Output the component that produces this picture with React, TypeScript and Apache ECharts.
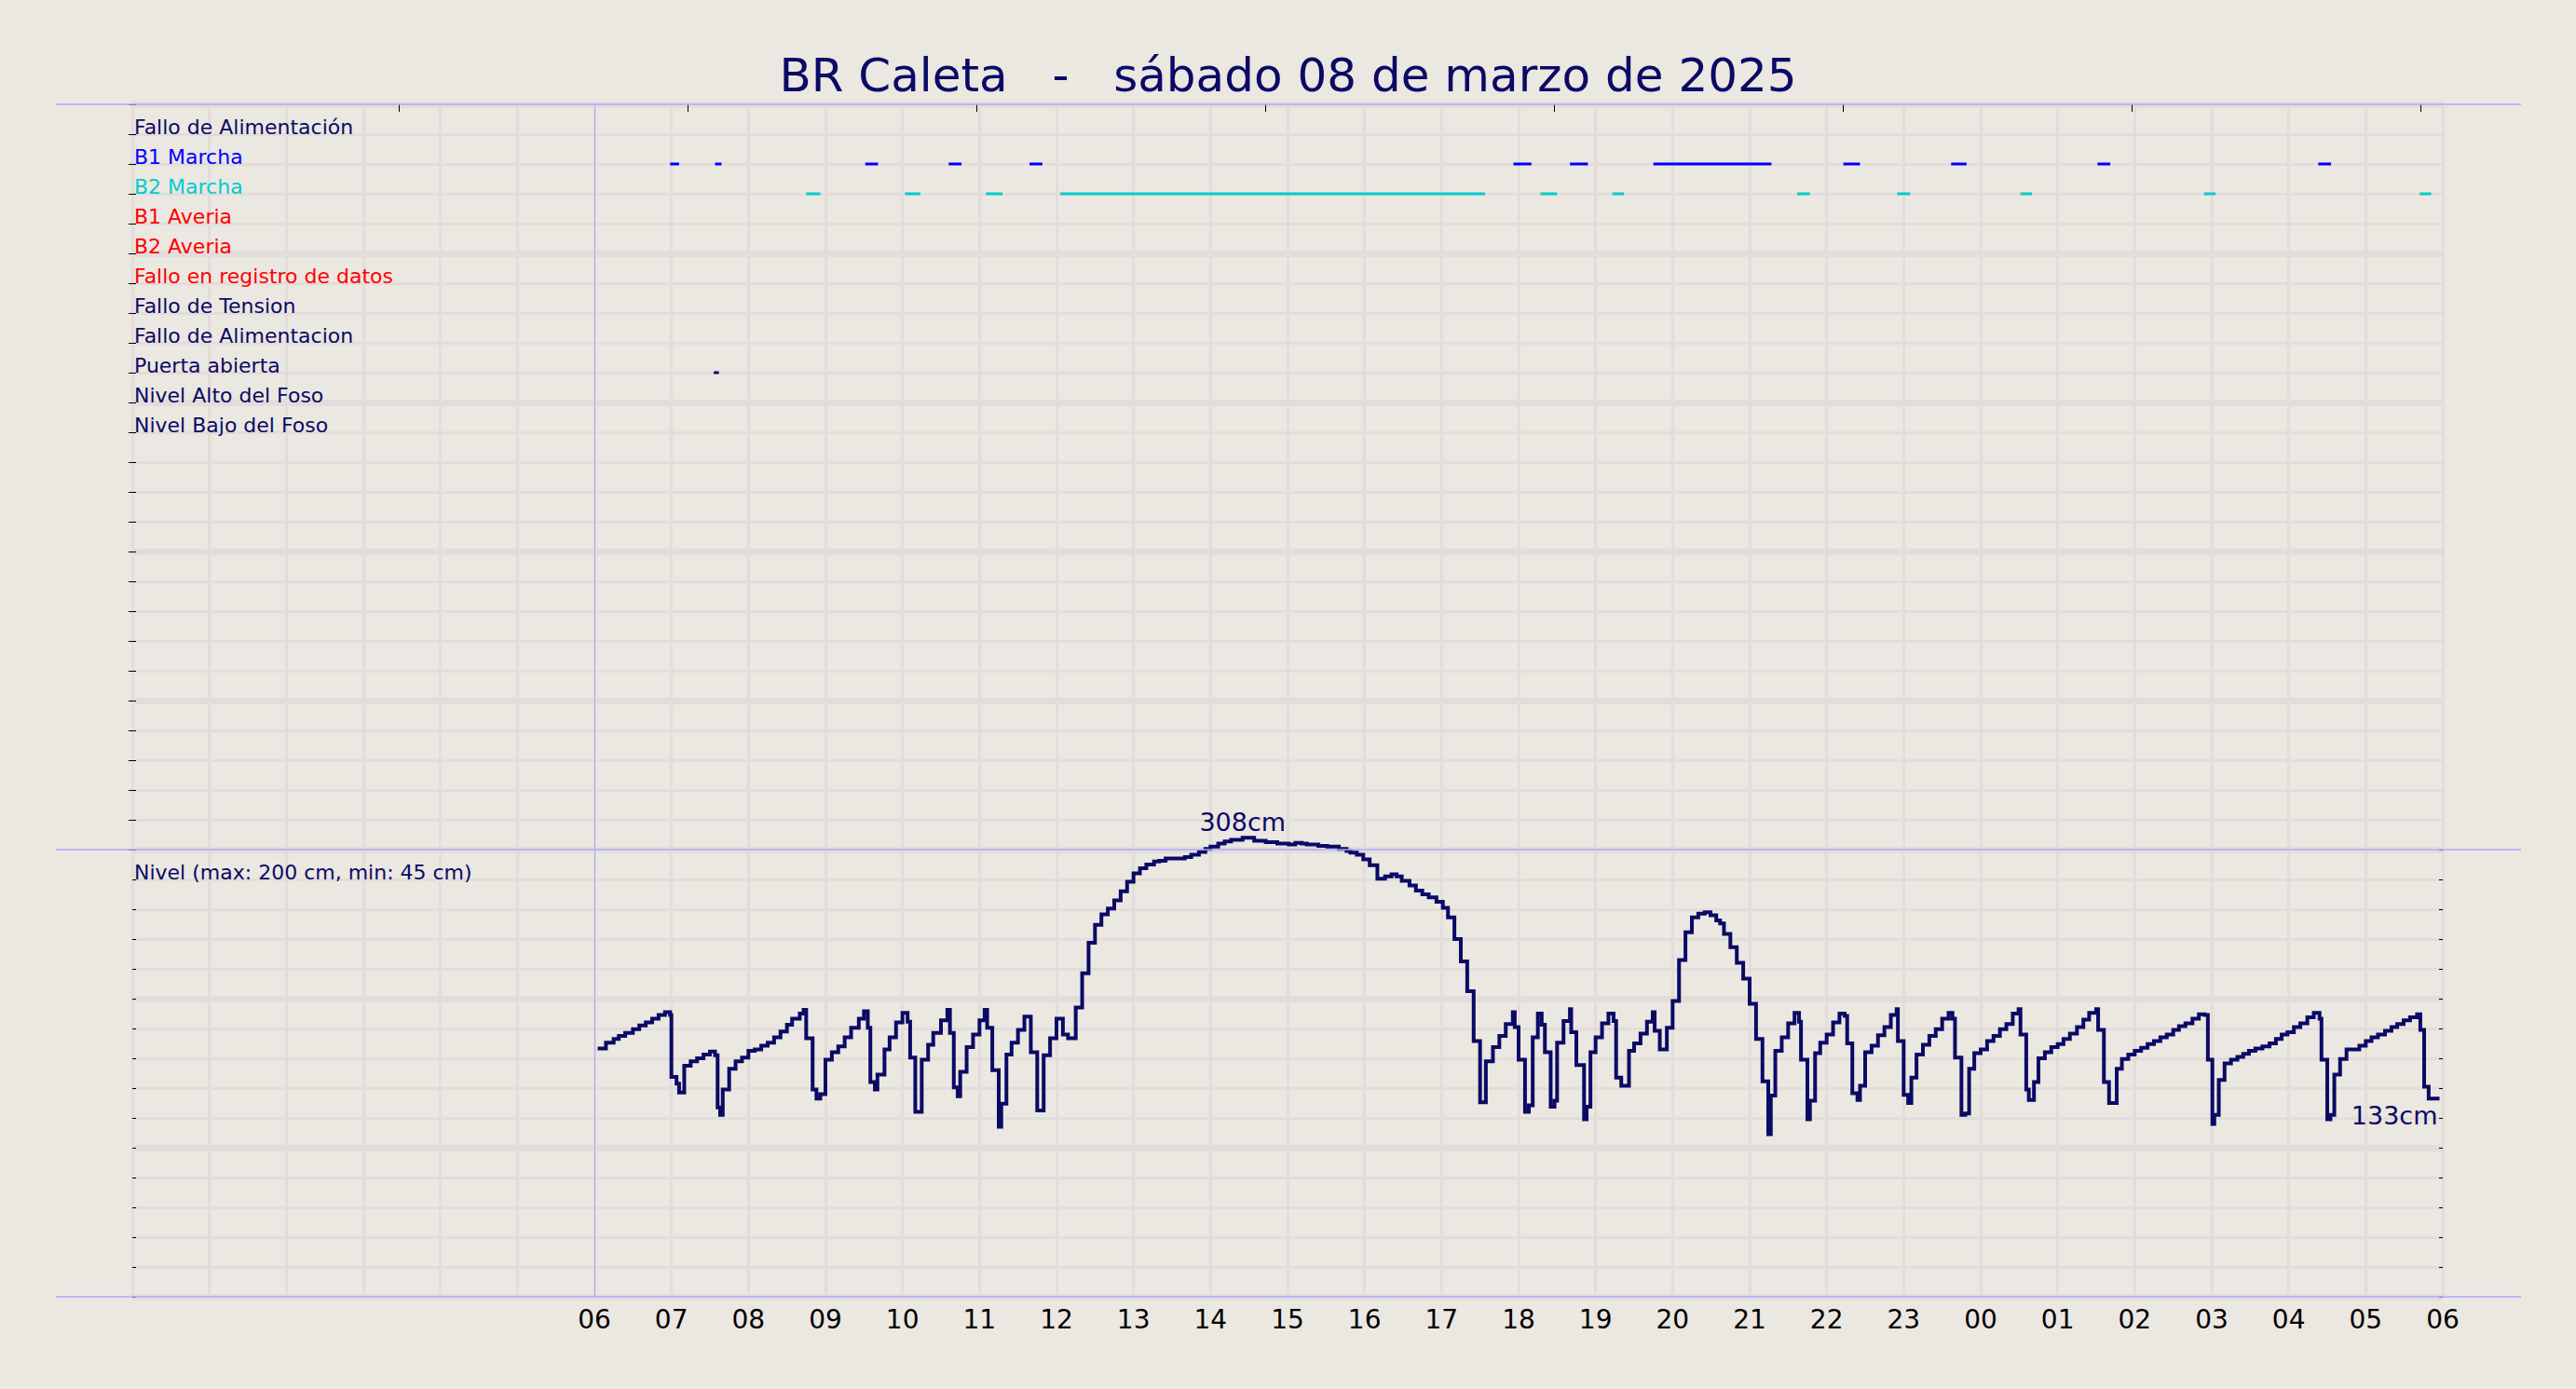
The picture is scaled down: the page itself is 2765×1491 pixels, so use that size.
import { useEffect, useRef } from 'react';
import * as echarts from 'echarts';

const FONT = '"DejaVu Sans", Verdana, sans-serif';
const NAVY = '#0a0a66';
const BG = '#ebe7e1';
const GRID_COLOR = '#e2dddb';
const FRAME = '#aaaaff';

const titleText = 'BR Caleta   -   sábado 08 de marzo de 2025';
const startHour = 6; // all times below are minutes after 06:00

const signalNames = [
  'Fallo de Alimentación',
  'B1 Marcha',
  'B2 Marcha',
  'B1 Averia',
  'B2 Averia',
  'Fallo en registro de datos',
  'Fallo de Tension',
  'Fallo de Alimentacion',
  'Puerta abierta',
  'Nivel Alto del Foso',
  'Nivel Bajo del Foso',
];
const signalColors = [
  NAVY, '#0000ff', '#00cccc', '#ff0000', '#ff0000', '#ff0000',
  NAVY, NAVY, NAVY, NAVY, NAVY,
];
const levelCaption = 'Nivel (max: 200 cm, min: 45 cm)';

// event intervals [start, end] in minutes after 06:00
const b1Marcha = [
  [59, 66], [94, 99], [211, 221], [276, 286], [339, 349], [716, 730],
  [760, 774], [825, 917], [973, 986], [1057, 1069], [1171, 1181], [1343, 1353],
];
const b2Marcha = [
  [165, 176], [242, 254], [305, 318], [363, 694], [737, 750], [793, 802],
  [937, 947], [1015, 1025], [1111, 1120], [1254, 1263], [1422, 1431],
];
const puertaAbierta = [[93, 97]];

// small marks on the top edge (hours on the 0..30 axis)
const topMarkHours = [3.46, 7.21, 10.96, 14.71, 18.46, 22.21, 25.96, 29.71];

// level samples: minutes after 06:00 and level in cm
const levelMinutes = [
  4, 9, 15, 19, 24, 30, 35, 40, 45, 50, 55, 59, 60, 64, 66, 70, 75, 80, 85, 90,
  94, 96, 98, 100, 105, 110, 115, 120, 125, 130, 135, 140, 145, 150, 154, 160, 163, 165, 170, 173,
  176, 180, 185, 190, 195, 200, 206, 210, 213, 215, 218.5, 220.5, 226, 230, 235, 240, 244, 246, 250, 255,
  260, 264, 270, 275, 277, 280, 283, 285, 290, 295, 300, 304, 306, 310, 315, 317, 321, 325, 330, 335,
  340, 345, 350, 355, 360, 365, 369, 375, 380, 385, 390, 395, 400, 405, 410, 415, 420, 425, 430, 436,
  440, 445, 450, 460, 465, 471, 476, 480, 486, 491, 496, 505, 514, 523, 532, 541, 546, 551, 555, 564,
  571, 580, 586, 589, 594, 599, 604, 610, 616, 621, 625, 629, 635, 640, 645, 650, 656, 661, 665, 670,
  675, 680, 685, 690, 694.5, 700, 705, 710, 715.5, 717, 720, 725, 728, 731, 735, 738, 740.5, 745, 748, 750,
  755, 760, 761, 765, 771, 773, 776, 780, 785, 790, 794, 796, 800, 806, 810, 815, 820, 824.5, 826, 830,
  835.5, 840, 845, 850, 855, 860, 865, 869.5, 874, 877, 880, 885, 890, 895, 900, 905, 910, 914.5, 916.5, 920,
  925, 930, 935, 938.5, 940, 945, 947, 951, 955, 960, 965, 970, 974, 976, 980, 984, 986, 990, 995, 1000,
  1005, 1010, 1014.5, 1015.5, 1020, 1023.5, 1026, 1030, 1035, 1040, 1045, 1050, 1055, 1058, 1060, 1065, 1068, 1071, 1075, 1080,
  1085, 1090, 1095, 1100, 1105, 1109.5, 1111, 1115.5, 1117.5, 1121.5, 1125, 1130, 1135, 1140, 1144.5, 1149.5, 1155, 1160, 1164.5, 1170,
  1171.5, 1176, 1180, 1186, 1190, 1195, 1200, 1205, 1210, 1215, 1220, 1225, 1230, 1234.5, 1239.5, 1245, 1250, 1254.5, 1257, 1260.5,
  1262, 1265.5, 1270, 1275, 1280, 1284.5, 1289, 1294, 1299.5, 1305, 1310, 1314.5, 1319, 1324, 1329, 1334.5, 1339.5, 1344, 1345.5, 1350,
  1352.5, 1355.5, 1360, 1365, 1375, 1380, 1384.5, 1389.5, 1395, 1400, 1404.5, 1409.5, 1414.5, 1420, 1422.5, 1425.5, 1429, 1436,
];
const levelCm = [
  166.5, 170.5, 173, 175, 177, 179.5, 182, 184, 186.5, 189, 191, 189, 147.5, 143, 137, 155, 158, 160, 162.5, 164.5,
  162, 127, 122, 139, 153, 158, 160.5, 165, 166, 168.5, 170.5, 174, 178, 182.5, 186.5, 190, 192.5, 173.5, 139, 133,
  136, 159, 164, 168, 174, 180.5, 186.5, 191.5, 180.5, 144, 139, 149, 166, 174, 184, 190.5, 184.5, 160.5, 124, 159,
  169, 177, 185.5, 192.5, 177, 140.5, 134.5, 151, 167.5, 176, 185.5, 192.5, 180.5, 152, 114, 129.5, 162.5, 170.5, 179, 188,
  164, 125, 162, 173.5, 186.5, 176, 173.5, 194, 217, 237.5, 249.5, 256.5, 260.5, 266, 272, 278.5, 284, 287.5, 290, 292,
  292.5, 294, 294, 295, 296.5, 298.5, 300.5, 302, 304, 305.5, 306.5, 308, 306, 305, 304, 303.5, 304.5, 304, 303.5, 302.5,
  302, 300.5, 299, 298, 296.5, 293.5, 289.5, 280.5, 282, 283.5, 282, 279, 276, 272.5, 270, 268, 265, 261, 254.5, 240,
  225, 205, 171.5, 130.5, 158, 167.5, 175, 183, 191, 181, 159, 124, 128.5, 174, 190, 182.5, 164, 127.5, 131.5, 170.5,
  185, 193, 177.5, 155.5, 119, 127.5, 164, 174, 183.5, 190, 185, 147, 141.5, 165, 170, 176.5, 184.5, 191, 178.5, 166,
  180.5, 198.5, 226, 244.5, 254.5, 257, 258, 256, 252.5, 250.5, 243.5, 234.5, 224, 213.5, 196.5, 173, 144.5, 109, 135, 165,
  174, 183.5, 190.5, 184.5, 159, 119, 131.5, 163.5, 170.5, 176, 184, 190, 188.5, 170, 136.5, 132, 141.5, 164, 168.5, 175.5,
  181, 189, 193, 171.5, 135.5, 130, 147, 162.5, 169, 175, 179.5, 186.5, 190.5, 186.5, 160.5, 122, 123, 153, 163.5, 166,
  171.5, 175, 179.5, 183, 190, 193, 176, 139, 132, 144, 160, 164, 167.5, 169.5, 173, 176.5, 181, 186, 190.5, 193,
  179, 144, 130, 153, 159.5, 162.5, 165, 167, 169.5, 171.5, 174, 176, 179, 181.5, 183.5, 186.5, 189.5, 189, 159, 116,
  122, 145.5, 156.5, 159, 161, 163, 165, 166.5, 168, 170, 173, 176, 177.5, 181, 183.5, 187.5, 190.5, 186.5, 159, 119,
  122, 149, 159.5, 166, 168.5, 171.5, 174, 176, 178.5, 181, 183, 185.5, 187.5, 189.5, 179, 141, 133, 133,
];

const toHour = (m: number) => startHour + m / 60;
const hourLabel = (v: number) => (v < startHour ? '' : String(Math.round(v) % 24).padStart(2, '0'));

function eventSeries(name: string, list: number[][], row: number, color: string, withMarkLine: boolean) {
  const s: any = {
    type: 'custom',
    name,
    xAxisIndex: 0,
    yAxisIndex: 0,
    silent: true,
    encode: { x: [0, 1], y: 2 },
    data: list.map(([a, b]) => [toHour(a), toHour(b), row]),
    renderItem: (_p: any, api: any) => {
      const p0 = api.coord([api.value(0), api.value(2)]);
      const p1 = api.coord([api.value(1), api.value(2)]);
      return {
        type: 'rect',
        shape: { x: p0[0], y: p0[1] - 1.5, width: Math.max(p1[0] - p0[0], 2), height: 3 },
        style: { fill: color },
      };
    },
  };
  if (withMarkLine) {
    s.markLine = {
      silent: true,
      symbol: 'none',
      label: { show: false },
      lineStyle: { color: FRAME, width: 1, type: 'solid' },
      data: [{ xAxis: startHour }],
    };
  }
  return s;
}

export default function App() {
  const ref = useRef<HTMLDivElement>(null);
  useEffect(() => {
    if (!ref.current) return;
    const chart = echarts.init(ref.current, undefined, { renderer: 'svg' });
    const levelData = levelMinutes.map((m, i) => [toHour(m), levelCm[i]]);
    let maxI = 0;
    levelCm.forEach((v, i) => { if (v > levelCm[maxI]) maxI = i; });
    const lastI = levelCm.length - 1;

    const tickStyle = { color: '#000', width: 1 };
    const splitStyle = { color: GRID_COLOR, width: 7 };
    const minorSplitStyle = { color: GRID_COLOR, width: 3 };
    const vSplit = { show: true, lineStyle: { color: GRID_COLOR, width: 3 } };

    const rowValues = signalNames.map((_, i) => i + 1);
    const labelCommon = {
      show: true, inside: true, margin: 2, fontSize: 22, fontFamily: FONT,
      align: 'left', verticalAlign: 'bottom', lineHeight: 15,
    };
    // axis carrying only small inward ticks at every grid line
    const tickAxis = (gridIndex: number, position: string, max: number, interval: number, inverse: boolean) => ({
      gridIndex, type: 'value', min: 0, max, interval, inverse, position,
      axisLine: { show: false },
      axisTick: { show: true, inside: true, length: 4, lineStyle: tickStyle },
      minorTick: { show: true, splitNumber: 5, length: 4, lineStyle: tickStyle },
      splitLine: { show: false }, minorSplitLine: { show: false }, axisLabel: { show: false },
    });

    const option: any = {
      animation: false,
      backgroundColor: BG,
      textStyle: { fontFamily: FONT },
      title: {
        text: titleText,
        left: 'center',
        top: 51,
        textStyle: { fontFamily: FONT, fontSize: 50, fontWeight: 'normal', color: NAVY },
      },
      grid: [
        { left: 142, right: 143, top: 112, height: 800, outerBoundsMode: 'none' },
        { left: 142, right: 143, top: 912, height: 480, outerBoundsMode: 'none' },
      ],
      xAxis: [
        {
          gridIndex: 0, type: 'value', min: 0, max: 30, interval: 1, position: 'bottom',
          axisLine: { show: false }, axisTick: { show: false }, axisLabel: { show: false },
          splitLine: vSplit,
        },
        {
          gridIndex: 0, type: 'value', min: 0, max: 30, position: 'top',
          axisLine: { show: false },
          axisTick: { show: true, inside: true, length: 8, customValues: topMarkHours, lineStyle: tickStyle },
          axisLabel: { show: false }, splitLine: { show: false },
        },
        {
          gridIndex: 1, type: 'value', min: 0, max: 30, interval: 1, position: 'bottom',
          axisLine: { show: false }, axisTick: { show: false },
          axisLabel: { show: true, formatter: hourLabel, fontSize: 28, color: '#000', margin: 10, fontFamily: FONT },
          splitLine: vSplit,
        },
      ],
      yAxis: [
        {
          gridIndex: 0, type: 'value', min: 0, max: 25, interval: 5, inverse: true, position: 'left',
          axisLine: { show: false },
          axisTick: { show: false },
          splitLine: { show: true, lineStyle: splitStyle },
          minorSplitLine: { show: true, lineStyle: minorSplitStyle },
          axisLabel: {
            ...labelCommon,
            customValues: rowValues,
            formatter: (v: number) => signalNames[Math.round(v) - 1] ?? '',
            color: (v: any) => signalColors[Math.round(Number(v)) - 1] ?? NAVY,
          },
        },
        tickAxis(0, 'right', 25, 5, true),
        tickAxis(0, 'left', 25, 5, true),
        {
          gridIndex: 1, type: 'value', min: 0, max: 300, interval: 100, position: 'left',
          axisLine: { show: false },
          axisTick: { show: false },
          splitLine: { show: true, lineStyle: splitStyle },
          minorSplitLine: { show: true, lineStyle: minorSplitStyle },
          axisLabel: {
            ...labelCommon,
            customValues: [280],
            formatter: () => levelCaption,
            color: NAVY,
          },
        },
        tickAxis(1, 'right', 300, 100, false),
        tickAxis(1, 'left', 300, 100, false),
      ],
      series: [
        eventSeries('B1 Marcha', b1Marcha, 2, '#0000ff', true),
        eventSeries('B2 Marcha', b2Marcha, 3, '#00cccc', false),
        eventSeries('Puerta abierta', puertaAbierta, 9, NAVY, false),
        {
          type: 'line',
          name: 'Nivel',
          xAxisIndex: 2,
          yAxisIndex: 3,
          step: 'end',
          showSymbol: false,
          clip: false,
          silent: true,
          lineStyle: { color: NAVY, width: 4, cap: 'square', join: 'miter' },
          data: levelData,
          markLine: {
            silent: true,
            symbol: 'none',
            label: { show: false },
            lineStyle: { color: FRAME, width: 1, type: 'solid' },
            data: [{ xAxis: startHour }],
          },
        },
        {
          type: 'scatter',
          xAxisIndex: 2,
          yAxisIndex: 3,
          symbolSize: 0,
          clip: false,
          silent: true,
          itemStyle: { opacity: 1, color: NAVY },
          label: {
            show: true,
            opacity: 1,
            formatter: (p: any) => Math.round(p.value[1]) + 'cm',
            fontSize: 27,
            fontFamily: FONT,
            color: NAVY,
          },
          data: [
            { value: levelData[maxI], label: { position: 'top', distance: 3 } },
            { value: levelData[lastI], label: { position: 'bottom', align: 'right', distance: 5 } },
          ],
        },
      ],
      graphic: [
        { type: 'line', z: 100, silent: true, shape: { x1: 60, y1: 112, x2: 2706, y2: 112 }, style: { stroke: FRAME, lineWidth: 1.5 } },
        { type: 'line', z: 100, silent: true, shape: { x1: 60, y1: 912, x2: 2706, y2: 912 }, style: { stroke: FRAME, lineWidth: 1.5 } },
        { type: 'line', z: 100, silent: true, shape: { x1: 60, y1: 1392, x2: 2706, y2: 1392 }, style: { stroke: FRAME, lineWidth: 1.5 } },
      ],
    };
    chart.setOption(option);
    return () => chart.dispose();
  }, []);
  return (
    <div
      ref={ref}
      style={{ position: 'fixed', left: 0, top: 0, width: 2765, height: 1491 }}
    />
  );
}
